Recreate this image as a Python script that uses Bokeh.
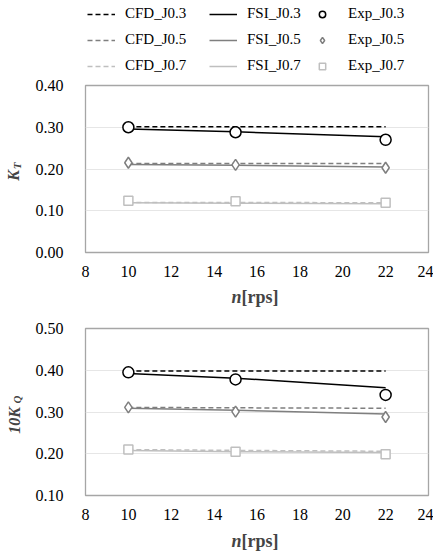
import math
from bokeh.plotting import figure
from bokeh.layouts import column, row
from bokeh.models import (Range1d, FixedTicker, NumeralTickFormatter, Label,
                          Legend, LegendItem)
from bokeh.embed import file_html
from bokeh.resources import INLINE

# ---------------- data ----------------
n_rps = [10, 15, 22]
series_names = ["J0.3", "J0.5", "J0.7"]

kt_cfd_j03 = [0.301, 0.301, 0.301]
kt_cfd_j05 = [0.213, 0.213, 0.213]
kt_cfd_j07 = [0.120, 0.120, 0.119]
kt_fsi_j03 = [0.296, 0.289, 0.277]
kt_fsi_j05 = [0.211, 0.209, 0.205]
kt_fsi_j07 = [0.119, 0.118, 0.117]
kt_exp_j03 = [0.300, 0.288, 0.270]
kt_exp_j05 = [0.215, 0.210, 0.203]
kt_exp_j07 = [0.124, 0.123, 0.119]

kq_cfd_j03 = [0.398, 0.398, 0.398]
kq_cfd_j05 = [0.311, 0.310, 0.309]
kq_cfd_j07 = [0.210, 0.208, 0.206]
kq_fsi_j03 = [0.392, 0.381, 0.358]
kq_fsi_j05 = [0.309, 0.304, 0.295]
kq_fsi_j07 = [0.208, 0.205, 0.203]
kq_exp_j03 = [0.395, 0.378, 0.341]
kq_exp_j05 = [0.311, 0.301, 0.288]
kq_exp_j07 = [0.210, 0.205, 0.199]

x_ticks = [8, 10, 12, 14, 16, 18, 20, 22, 24]
kt_ticks = [0.0, 0.1, 0.2, 0.3, 0.4]
kq_ticks = [0.1, 0.2, 0.3, 0.4, 0.5]

COLORS = ["#000000", "#7f7f7f", "#bfbfbf"]
MARKERS = ["circle", "diamond", "square"]
MSIZES = [11, 11, 9]
SERIF = "Liberation Serif"


def text_fig(width, height):
    f = figure(width=width, height=height, output_backend="svg",
               toolbar_location=None, x_range=Range1d(0, 1),
               y_range=Range1d(0, 1), x_axis_location=None,
               y_axis_location=None, min_border=0)
    f.outline_line_color = None
    f.grid.visible = False
    return f


def make_fig(height, top, yticks, ylo, yhi):
    p = figure(width=408, height=height, output_backend="svg",
               toolbar_location=None, x_range=Range1d(8, 24),
               y_range=Range1d(ylo, yhi), min_border_left=60,
               min_border_right=5, min_border_top=top, min_border_bottom=33)
    p.outline_line_color = "#a6a6a6"
    p.outline_line_width = 1.3
    p.xgrid.visible = False
    p.ygrid.grid_line_color = "#e6e6e6"
    p.ygrid.grid_line_width = 1
    for ax in (p.xaxis, p.yaxis):
        ax.axis_line_color = None
        ax.major_tick_line_color = None
        ax.minor_tick_line_color = None
        ax.major_tick_out = 0
        ax.major_tick_in = 0
        ax.minor_tick_out = 0
        ax.minor_tick_in = 0
        ax.major_label_text_font = SERIF
        ax.major_label_text_font_size = "16px"
        ax.major_label_text_color = "#000000"
    p.xaxis.ticker = FixedTicker(ticks=x_ticks)
    p.yaxis.ticker = FixedTicker(ticks=yticks)
    p.yaxis.formatter = NumeralTickFormatter(format="0.00")
    p.xaxis.major_label_standoff = 13
    p.yaxis.major_label_standoff = 22
    return p


def draw(p, cfd, fsi, exp):
    rs = {"cfd": [], "fsi": [], "exp": []}
    for i in range(3):
        rs["cfd"].append(p.line(n_rps, cfd[i], line_color=COLORS[i],
                                line_width=1.5, line_dash="5 3"))
    for i in range(3):
        rs["fsi"].append(p.line(n_rps, fsi[i], line_color=COLORS[i],
                                line_width=1.5))
    for i in range(3):
        rs["exp"].append(p.scatter(n_rps, exp[i], marker=MARKERS[i],
                                   size=MSIZES[i], line_color=COLORS[i],
                                   line_width=1.5, fill_color="white"))
    return rs


def ylabel_fig(height, main, sub, xm, ym, xs, ys):
    f = text_fig(25, height)
    f.add_layout(Label(x=xm, y=ym, x_units="screen", y_units="screen",
                       text=main, angle=math.pi / 2, text_font=SERIF,
                       text_font_size="16px", text_font_style="bold italic",
                       text_align="center", text_baseline="middle"))
    f.add_layout(Label(x=xs, y=ys, x_units="screen", y_units="screen",
                       text=sub, angle=math.pi / 2, text_font=SERIF,
                       text_font_size="11px", text_font_style="bold italic",
                       text_align="center", text_baseline="middle"))
    return f


def xtitle_fig(height, yc):
    f = text_fig(433, height)
    split = 241
    f.add_layout(Label(x=split, y=yc, x_units="screen", y_units="screen",
                       text="n", text_font=SERIF, text_font_size="18px",
                       text_font_style="bold italic", text_align="right",
                       text_baseline="middle"))
    f.add_layout(Label(x=split, y=yc, x_units="screen", y_units="screen",
                       text="[rps]", text_font=SERIF, text_font_size="18px",
                       text_font_style="bold", text_align="left",
                       text_baseline="middle"))
    return f


# ---------------- legend strip ----------------
p_leg = text_fig(433, 75)
r_leg = draw(p_leg, [kt_cfd_j03, kt_cfd_j05, kt_cfd_j07],
             [kt_fsi_j03, kt_fsi_j05, kt_fsi_j07],
             [kt_exp_j03, kt_exp_j05, kt_exp_j07])  # outside view; legend only
leg_specs = [("cfd", "CFD_", 87, 10), ("fsi", "FSI_", 209, 10),
             ("exp", "Exp_", 308, 12)]
for key, prefix, lx, standoff in leg_specs:
    items = [LegendItem(label=prefix + series_names[i], renderers=[r_leg[key][i]])
             for i in range(3)]
    leg = Legend(items=items, location=(lx, 1), orientation="vertical",
                 glyph_width=28, glyph_height=16, label_height=16,
                 label_standoff=standoff, spacing=9, padding=0, margin=0,
                 border_line_color=None, background_fill_alpha=0,
                 label_text_font=SERIF, label_text_font_size="15px",
                 label_text_color="#000000")
    p_leg.add_layout(leg)

# ---------------- top: K_T ----------------
p1 = make_fig(210, 10, kt_ticks, 0.0, 0.4)
draw(p1, [kt_cfd_j03, kt_cfd_j05, kt_cfd_j07],
     [kt_fsi_j03, kt_fsi_j05, kt_fsi_j07],
     [kt_exp_j03, kt_exp_j05, kt_exp_j07])
yl1 = ylabel_fig(210, "K", "T", 13, 77, 16.5, 86.5)
xt1 = xtitle_fig(27, 16)

# ---------------- bottom: 10K_Q ----------------
p2 = make_fig(216, 16, kq_ticks, 0.1, 0.5)
draw(p2, [kq_cfd_j03, kq_cfd_j05, kq_cfd_j07],
     [kq_fsi_j03, kq_fsi_j05, kq_fsi_j07],
     [kq_exp_j03, kq_exp_j05, kq_exp_j07])
yl2 = ylabel_fig(216, "10K", "Q", 13.5, 75, 16, 96)
xt2 = xtitle_fig(27, 15)

layout = column(p_leg, row(yl1, p1, spacing=0), xt1,
                row(yl2, p2, spacing=0), xt2, spacing=0)
open("out.html", "w").write(file_html(layout, INLINE))
